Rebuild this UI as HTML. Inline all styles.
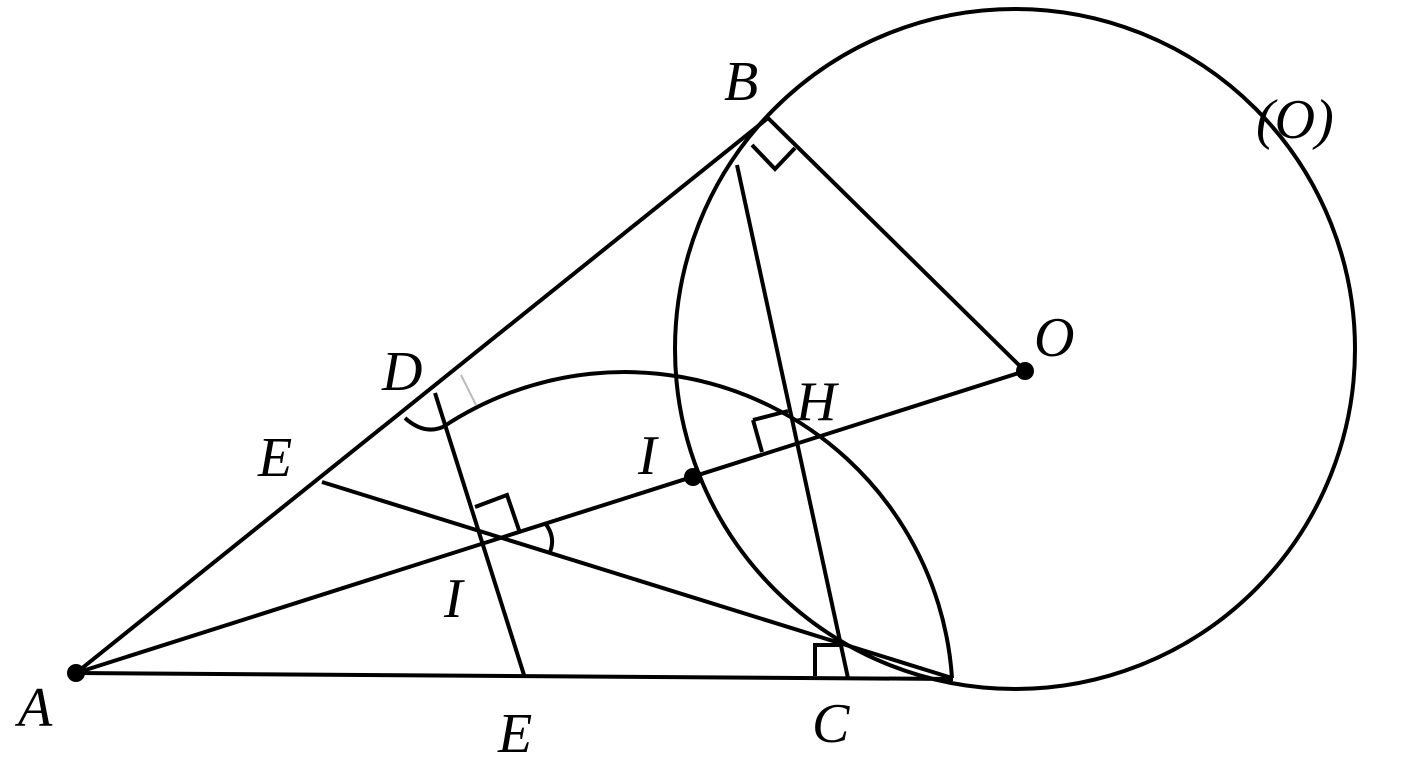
<!DOCTYPE html>
<html><head><style>html,body{margin:0;padding:0;background:#fff}svg{display:block}
text{font-family:"Liberation Serif",serif;font-style:italic;font-size:56px;fill:#000}</style></head>
<body>
<svg width="1408" height="768" viewBox="0 0 1408 768" xmlns="http://www.w3.org/2000/svg">
<g fill="none" stroke="#000" stroke-width="4" stroke-linejoin="miter">
<circle cx="1015" cy="349" r="340"/>
<path d="M443 427 A328 328 0 0 1 952 678"/>
<path d="M405 418 Q425 436 445 426"/>
<line x1="76" y1="673" x2="768" y2="118"/>
<line x1="76" y1="673" x2="953" y2="679"/>
<line x1="76" y1="673" x2="1025" y2="371"/>
<line x1="768" y1="118" x2="1025" y2="371"/>
<line x1="737" y1="165" x2="848" y2="678"/>
<line x1="435" y1="393" x2="524" y2="675"/>
<line x1="322" y1="482" x2="952" y2="678"/>
<polyline points="752,145 775,169 795,148"/>
<polyline points="753,420 762,452"/>
<polyline points="753,420 788,411"/>
<polyline points="475,507 507,495 520,533"/>
<polyline points="815,676 815,645 843,645"/>
<path d="M545 523 Q556 537 550 552"/>
</g>
<line x1="461" y1="375" x2="476" y2="405" stroke="#bbb" stroke-width="2"/>
<circle cx="76" cy="673" r="9"/>
<circle cx="693" cy="477" r="9"/>
<circle cx="1025" cy="371" r="9"/>
<text x="724" y="100">B</text>
<text x="1256" y="138">(O)</text>
<text x="1034" y="356">O</text>
<text x="382" y="390">D</text>
<text x="796" y="420">H</text>
<text x="258" y="476">E</text>
<text x="638" y="474">I</text>
<text x="444" y="617">I</text>
<text x="18" y="726">A</text>
<text x="498" y="752">E</text>
<text x="812" y="742">C</text>
</svg>
</body></html>
